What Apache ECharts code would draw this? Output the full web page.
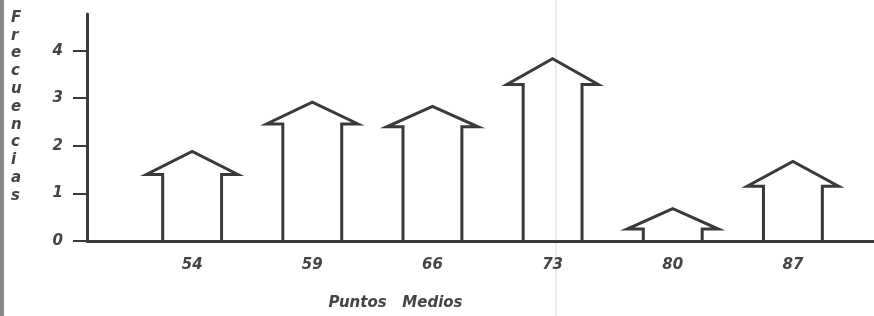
<!DOCTYPE html>
<html>
<head>
<meta charset="utf-8">
<script src="https://cdn.jsdelivr.net/npm/echarts@6/dist/echarts.min.js"></script>
<style>
  html, body { margin: 0; padding: 0; background: #fff; }
  #main { width: 874px; height: 316px; }
</style>
</head>
<body>
<div id="main"></div>
<script>
// puntos medios y alturas de cada "casita" (alero y cumbre)
const puntosMedios = ["54", "59", "66", "73", "80", "87"];
const alturaAlero = [1.40, 2.46, 2.40, 3.29, 0.25, 1.15];
const alturaCumbre = [1.88, 2.92, 2.83, 3.83, 0.68, 1.67];
const ticksY = [0, 1, 2, 3, 4];

const ink = "#3a3a3a";
const lettering = {
    fontFamily: "DejaVu Sans",
    fontStyle: "italic",
    fontWeight: "bold",
    color: "#444"
};

const chart = echarts.init(document.getElementById("main"));

const data = puntosMedios.map((p, i) => [i, alturaAlero[i], alturaCumbre[i]]);

option = {
    animation: false,
    backgroundColor: "#fff",
    grid: { left: 87, right: 0, top: 14, bottom: 73 },
    xAxis: {
        type: "value",
        min: -0.875,
        max: 5.675,
        splitLine: { show: false },
        axisTick: { show: false },
        axisLine: { show: true, onZero: false, lineStyle: { color: ink, width: 3 } },
        axisLabel: {
            customValues: [0, 1, 2, 3, 4, 5],
            margin: 17,
            fontSize: 15,
            ...lettering,
            formatter: (v) => puntosMedios[Math.round(v)]
        },
        name: "Puntos   Medios",
        nameLocation: "middle",
        nameGap: 55,
        nameTextStyle: { fontSize: 15, ...lettering, padding: [0, 0, 0, -170] }
    },
    yAxis: {
        type: "value",
        min: 0,
        max: 4.77,
        splitLine: { show: false },
        axisLine: { show: true, onZero: false, lineStyle: { color: ink, width: 3 } },
        axisTick: { show: true, customValues: ticksY, length: 14, lineStyle: { color: ink, width: 2 } },
        axisLabel: { customValues: ticksY, margin: 24, fontSize: 15, ...lettering }
    },
    graphic: [
        {
            type: "text",
            left: 11,
            top: 9,
            style: {
                text: "Frecuencias".split("").join("\n"),
                font: "italic bold 15px 'DejaVu Sans'",
                fill: "#444",
                lineHeight: 17.8,
                align: "center"
            }
        },
        {
            type: "rect",
            left: 0,
            top: 0,
            shape: { width: 4, height: 316 },
            style: { fill: "#8a8a8a" }
        },
        {
            type: "rect",
            left: 555,
            top: 0,
            shape: { width: 2, height: 316 },
            style: { fill: "#ececec" }
        }
    ],
    series: [
        {
            type: "custom",
            data: data,
            renderItem: (params, api) => {
                const x = api.value(0);
                const alero = api.value(1);
                const cumbre = api.value(2);
                const pts = [
                    api.coord([x - 0.245, 0]),
                    api.coord([x - 0.245, alero]),
                    api.coord([x - 0.38, alero]),
                    api.coord([x, cumbre]),
                    api.coord([x + 0.38, alero]),
                    api.coord([x + 0.245, alero]),
                    api.coord([x + 0.245, 0])
                ];
                return {
                    type: "polyline",
                    shape: { points: pts },
                    style: { stroke: ink, lineWidth: 3, fill: null, lineJoin: "miter" }
                };
            }
        }
    ]
};

chart.setOption(option);
</script>
</body>
</html>
